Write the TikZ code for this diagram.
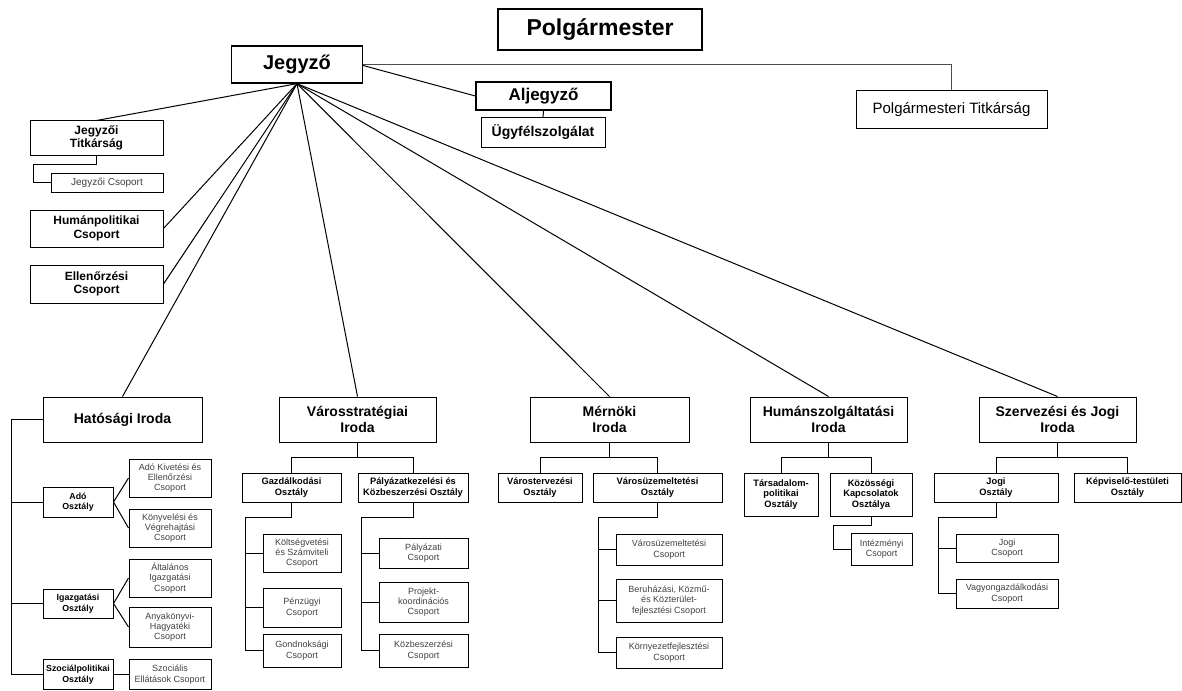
\documentclass[tikz,border=0pt]{standalone}
\usepackage{fontspec}
\setmainfont{Liberation Sans}
\begin{document}
\begin{tikzpicture}[x=1pt,y=-1pt,
  box/.style={draw, line width=1pt, align=center, inner sep=0pt, fill=white},
  ln/.style={line width=1pt},
  fPM/.style={font=\fontsize{23}{26}\selectfont\bfseries},
  fJZ/.style={font=\fontsize{20}{24}\selectfont\bfseries},
  fAL/.style={font=\fontsize{17}{20}\selectfont\bfseries},
  fUG/.style={font=\fontsize{14}{16}\selectfont\bfseries},
  fPT/.style={font=\fontsize{15}{18}\selectfont},
  fL1/.style={font=\fontsize{12}{13.5}\selectfont\bfseries},
  fJC/.style={font=\fontsize{10}{12}\selectfont, text=black!75},
  fIR/.style={font=\fontsize{14}{15.5}\selectfont\bfseries},
  fOS/.style={font=\fontsize{9.3}{10.6}\selectfont\bfseries},
  fOH/.style={font=\fontsize{8.8}{10.4}\selectfont\bfseries},
  fCS/.style={font=\fontsize{9}{10.3}\selectfont, text=black!75}
]
\useasboundingbox (0,0) rectangle (1182,690);

% top level
\node[box, fPM, line width=1.5pt, minimum width=204pt, minimum height=41pt] (pm) at (600,29.5) {Polgármester};
\node[box, fJZ, line width=1.3pt, minimum width=131pt, minimum height=37pt] (jz) at (297,64.5) {Jegyző};
\node[box, fAL, line width=1.3pt, minimum width=135pt, minimum height=28pt] (alj) at (543.5,96) {Aljegyző};
\node[box, fUG, minimum width=124pt, minimum height=29pt] (ugy) at (543,132.5) {Ügyfélszolgálat};
\node[box, fPT, minimum width=191pt, minimum height=37pt] (pt) at (951.5,109.5) {Polgármesteri Titkárság};

% left column
\node[box, fL1, minimum width=133pt, minimum height=34pt] (jt) at (96.5,138) {Jegyzői\\Titkárság};
\node[box, fJC, minimum width=112pt, minimum height=19pt] (jc) at (107,182.5) {Jegyzői Csoport};
\node[box, fL1, minimum width=133pt, minimum height=37pt] (hp) at (96.5,228.5) {Humánpolitikai\\Csoport};
\node[box, fL1, minimum width=133pt, minimum height=38pt] (ell) at (96.5,284) {Ellenőrzési\\Csoport};

% Iroda level
\node[box, fIR, minimum width=159pt, minimum height=45pt] (hat) at (122.5,419.5) {Hatósági Iroda};
\node[box, fIR, minimum width=157pt, minimum height=45pt] (vs) at (357.5,419.5) {Városstratégiai\\Iroda};
\node[box, fIR, minimum width=159pt, minimum height=45pt] (mer) at (609.5,419.5) {Mérnöki\\Iroda};
\node[box, fIR, minimum width=157pt, minimum height=45pt] (hum) at (828.5,419.5) {Humánszolgáltatási\\Iroda};
\node[box, fIR, minimum width=157pt, minimum height=45pt] (szj) at (1057.5,419.5) {Szervezési és Jogi\\Iroda};

% Hatósági Iroda
\node[box, fOH, minimum width=70pt, minimum height=30pt] (ado) at (78,502) {Adó\\Osztály};
\node[box, fOH, minimum width=70pt, minimum height=29pt] (igo) at (78,603.5) {Igazgatási\\Osztály};
\node[box, fOH, minimum width=70pt, minimum height=30pt] (szo) at (78,674.5) {Szociálpolitikai\\Osztály};
\node[box, fCS, minimum width=82pt, minimum height=38pt] (c1) at (170,478) {Adó Kivetési és\\Ellenőrzési\\Csoport};
\node[box, fCS, minimum width=82pt, minimum height=38pt] (c2) at (170,528) {Könyvelési és\\Végrehajtási\\Csoport};
\node[box, fCS, minimum width=82pt, minimum height=38pt] (c3) at (170,578) {Általános\\Igazgatási\\Csoport};
\node[box, fCS, minimum width=82pt, minimum height=40pt] (c4) at (170,627) {Anyakönyvi-\\Hagyatéki\\Csoport};
\node[box, fCS, minimum width=82pt, minimum height=30pt] (c5) at (170,674.5) {Szociális\\Ellátások Csoport};

% Városstratégiai Iroda
\node[box, fOS, minimum width=99pt, minimum height=29pt] (gaz) at (291.5,487.5) {Gazdálkodási\\Osztály};
\node[box, fOS, minimum width=110pt, minimum height=29pt] (pal) at (413,487.5) {Pályázatkezelési és\\Közbeszerzési Osztály};
\node[box, fCS, minimum width=78pt, minimum height=38pt] (k1) at (302,553) {Költségvetési\\és Számviteli\\Csoport};
\node[box, fCS, minimum width=78pt, minimum height=39pt] (k2) at (302,607.5) {Pénzügyi\\Csoport};
\node[box, fCS, minimum width=78pt, minimum height=33pt] (k3) at (302,650.5) {Gondnoksági\\Csoport};
\node[box, fCS, minimum width=89pt, minimum height=30pt] (p1) at (423.5,553) {Pályázati\\Csoport};
\node[box, fCS, minimum width=89pt, minimum height=40pt] (p2) at (423.5,602) {Projekt-\\koordinációs\\Csoport};
\node[box, fCS, minimum width=89pt, minimum height=33pt] (p3) at (423.5,650.5) {Közbeszerzési\\Csoport};

% Mérnöki Iroda
\node[box, fOS, minimum width=84pt, minimum height=29pt] (vt) at (540,487.5) {Várostervezési\\Osztály};
\node[box, fOS, minimum width=129pt, minimum height=29pt] (vu) at (657.5,487.5) {Városüzemeltetési\\Osztály};
\node[box, fCS, minimum width=106pt, minimum height=31pt] (m1) at (669,549.5) {Városüzemeltetési\\Csoport};
\node[box, fCS, minimum width=106pt, minimum height=43pt] (m2) at (669,600.5) {Beruházási, Közmű-\\és Közterület-\\fejlesztési Csoport};
\node[box, fCS, minimum width=106pt, minimum height=31pt] (m3) at (669,652.5) {Környezetfejlesztési\\Csoport};

% Humánszolgáltatási Iroda
\node[box, fOS, minimum width=74pt, minimum height=43pt] (tp) at (781,494.5) {Társadalom-\\politikai\\Osztály};
\node[box, fOS, minimum width=82pt, minimum height=43pt] (kk) at (871,494.5) {Közösségi\\Kapcsolatok\\Osztálya};
\node[box, fCS, minimum width=61pt, minimum height=32pt] (int) at (881.5,549) {Intézményi\\Csoport};

% Szervezési és Jogi Iroda
\node[box, fOS, minimum width=124pt, minimum height=29pt] (jo) at (996,487.5) {Jogi\\Osztály};
\node[box, fOS, minimum width=107pt, minimum height=29pt] (kt) at (1127.5,487.5) {Képviselő-testületi\\Osztály};
\node[box, fCS, minimum width=102pt, minimum height=28pt] (j1) at (1007,548) {Jogi\\Csoport};
\node[box, fCS, minimum width=102pt, minimum height=29pt] (j2) at (1007,593.5) {Vagyongazdálkodási\\Csoport};

% connectors from Jegyző
\draw[ln, black!70] (jz.east) -| (pt.north);
\draw[ln] ([yshift=-1pt]jz.east) -- (alj.west);
\draw[ln] (alj.south) -- (ugy.north);
\foreach \t/\a in {jt/north, hp/east, ell/east, hat/north, vs/north, mer/north, hum/north, szj/north}
  \draw[ln] (jz.south) -- (\t.\a);

% Jegyzői Titkárság -> Jegyzői Csoport
\coordinate (jtc) at (33,164);
\draw[ln] (jt.south) |- (jtc) |- (jc.west);

% Hatósági Iroda tree
\coordinate (htr) at (11,0);
\draw[ln] (hat.west) -| (htr |- szo.west) -- (szo.west);
\draw[ln] (htr |- ado.west) -- (ado.west);
\draw[ln] (htr |- igo.west) -- (igo.west);
\draw[ln] (ado.east) -- (c1.west);
\draw[ln] (ado.east) -- (c2.west);
\draw[ln] (igo.east) -- (c3.west);
\draw[ln] (igo.east) -- (c4.west);
\draw[ln] (szo.east) -- (c5.west);

% Iroda -> Osztály
\draw[ln] (vs.south) -- ++(0,15) coordinate (vsj);
\draw[ln] (gaz.north) |- (vsj) -| (pal.north);
\draw[ln] (mer.south) -- ++(0,15) coordinate (mej);
\draw[ln] (vt.north) |- (mej) -| (vu.north);
\draw[ln] (hum.south) -- ++(0,15) coordinate (huj);
\draw[ln] (tp.north) |- (huj) -| (kk.north);
\draw[ln] (szj.south) -- ++(0,15) coordinate (szjj);
\draw[ln] (jo.north) |- (szjj) -| (kt.north);

% Osztály -> Csoport
\coordinate (gt) at (245,517);
\draw[ln] (gaz.south) |- (gt) |- (k3.west);
\draw[ln] (gt |- k1.west) -- (k1.west);
\draw[ln] (gt |- k2.west) -- (k2.west);
\coordinate (ptr) at (361,517);
\draw[ln] (pal.south) |- (ptr) |- (p3.west);
\draw[ln] (ptr |- p1.west) -- (p1.west);
\draw[ln] (ptr |- p2.west) -- (p2.west);
\coordinate (vtr) at (598,517);
\draw[ln] (vu.south) |- (vtr) |- (m3.west);
\draw[ln] (vtr |- m1.west) -- (m1.west);
\draw[ln] (vtr |- m2.west) -- (m2.west);
\coordinate (ktr) at (833,525);
\draw[ln] (kk.south) |- (ktr) |- (int.west);
\coordinate (jtr) at (938,517);
\draw[ln] (jo.south) |- (jtr) |- (j2.west);
\draw[ln] (jtr |- j1.west) -- (j1.west);
\end{tikzpicture}
\end{document}
